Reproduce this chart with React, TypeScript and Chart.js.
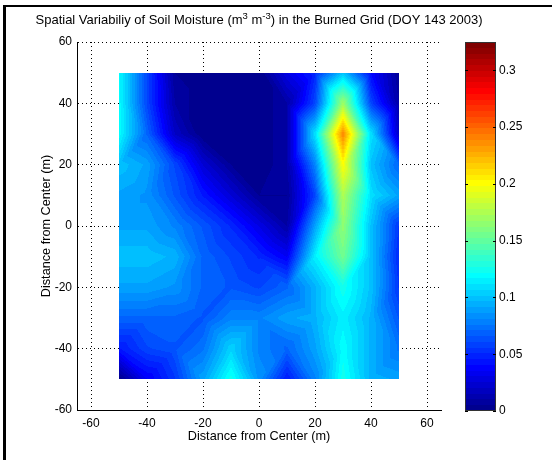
import React, { useEffect, useRef } from "react";
import { Chart, registerables } from "chart.js";

Chart.register(...registerables);

// ---- data ----
const gridX = [-50, -40, -30, -20, -10, 0, 10, 20, 30, 40, 50];
const gridY = [50, 40, 30, 20, 10, 0, -10, -20, -30, -40, -50];

const rowY50 = [0.12, 0.06, 0.005, 0.0, 0.0, 0.0, 0.03, 0.05, 0.1, 0.04, 0.005];
const rowY40 = [0.12, 0.06, 0.01, 0.0, 0.0, 0.0, 0.01, 0.06, 0.17, 0.06, 0.01];
const rowY30 = [0.12, 0.07, 0.02, 0.0, 0.0, 0.0, 0.01, 0.11, 0.24, 0.11, 0.02];
const rowY20 = [0.1, 0.09, 0.06, 0.025, 0.005, 0.0, 0.01, 0.08, 0.2, 0.1, 0.07];
const rowY10 = [0.09, 0.085, 0.065, 0.045, 0.025, 0.005, 0.005, 0.06, 0.175, 0.11, 0.09];
const rowY0 = [0.09, 0.09, 0.08, 0.065, 0.05, 0.03, 0.01, 0.09, 0.165, 0.1, 0.055];
const rowYm10 = [0.1, 0.1, 0.095, 0.07, 0.06, 0.05, 0.035, 0.115, 0.155, 0.1, 0.05];
const rowYm20 = [0.09, 0.09, 0.085, 0.07, 0.065, 0.06, 0.07, 0.095, 0.125, 0.1, 0.055];
const rowYm30 = [0.07, 0.07, 0.07, 0.065, 0.08, 0.08, 0.09, 0.095, 0.115, 0.095, 0.065];
const rowYm40 = [0.045, 0.06, 0.065, 0.075, 0.105, 0.08, 0.07, 0.09, 0.12, 0.095, 0.075];
const rowYm50 = [0.0, 0.035, 0.055, 0.09, 0.125, 0.085, 0.045, 0.08, 0.125, 0.095, 0.09];

const moisture = [rowY50, rowY40, rowY30, rowY20, rowY10, rowY0, rowYm10, rowYm20, rowYm30, rowYm40, rowYm50];

const axisTicks = [-60, -40, -20, 0, 20, 40, 60];
const colorTicks = [0, 0.05, 0.1, 0.15, 0.2, 0.25, 0.3];
const colorTickLabels = ["0", "0.05", "0.1", "0.15", "0.2", "0.25", "0.3"];
const colorMin = 0;
const colorMax = 0.325;

// title pieces: normal text and superscripts
const titleParts = [
  { text: "Spatial Variabiliy of Soil Moisture (m", sup: false },
  { text: "3", sup: true },
  { text: " m", sup: false },
  { text: "-3", sup: true },
  { text: ") in the Burned Grid (DOY 143 2003)", sup: false },
];
const xTitle = "Distance from Center (m)";
const yTitle = "Distance from Center (m)";

const FONT_FAMILY = "'Liberation Sans', Arial, sans-serif";

// ---- MATLAB jet(64) ----
function buildJet(n: number): number[][] {
  const m = Math.ceil(n / 4);
  const u: number[] = [];
  for (let i = 1; i <= m; i++) u.push(i / m);
  for (let i = 1; i < m; i++) u.push(1);
  for (let i = m; i >= 1; i--) u.push(i / m);
  const J: number[][] = [];
  for (let i = 0; i < n; i++) J.push([0, 0, 0]);
  const g0 = Math.ceil(m / 2) - (n % 4 === 1 ? 1 : 0);
  for (let k = 0; k < u.length; k++) {
    const g = g0 + k + 1;
    const r = g + m;
    const b = g - m;
    if (r >= 1 && r <= n) J[r - 1][0] = u[k];
    if (g >= 1 && g <= n) J[g - 1][1] = u[k];
    if (b >= 1 && b <= n) J[b - 1][2] = u[k];
  }
  return J.map((c) => c.map((v) => Math.round(v * 255)));
}
const JET = buildJet(64);

function colorIndex(v: number) {
  let k = Math.floor(((v - colorMin) / (colorMax - colorMin)) * 64);
  if (k < 0) k = 0;
  if (k > 63) k = 63;
  return k;
}

function interp(vx: number, vy: number) {
  const nx = gridX.length;
  const ny = gridY.length;
  const fi = (vx - gridX[0]) / (gridX[1] - gridX[0]);
  const fj = (gridY[0] - vy) / (gridY[0] - gridY[1]);
  let ci = Math.floor(fi);
  let cj = Math.floor(fj);
  if (ci < 0) ci = 0;
  if (ci > nx - 2) ci = nx - 2;
  if (cj < 0) cj = 0;
  if (cj > ny - 2) cj = ny - 2;
  const u = Math.min(1, Math.max(0, fi - ci));
  const w = Math.min(1, Math.max(0, fj - cj));
  const a = moisture[cj][ci];
  const b = moisture[cj][ci + 1];
  const c = moisture[cj + 1][ci];
  const d = moisture[cj + 1][ci + 1];
  if ((ci + cj) % 2 === 0) {
    if (u + w <= 1) return a + u * (b - a) + w * (c - a);
    return d + (1 - u) * (c - d) + (1 - w) * (b - d);
  }
  if (u >= w) return a + u * (b - a) + w * (d - b);
  return a + w * (c - a) + u * (d - c);
}

const surfacePlugin = {
  id: "surface",
  beforeDatasetsDraw(chart: any) {
    const { ctx, scales } = chart;
    const xs = scales.x;
    const ys = scales.y;
    const left = Math.round(xs.getPixelForValue(gridX[0]));
    const right = Math.round(xs.getPixelForValue(gridX[gridX.length - 1]));
    const top = Math.round(ys.getPixelForValue(gridY[0]));
    const bottom = Math.round(ys.getPixelForValue(gridY[gridY.length - 1]));
    const w = right - left;
    const h = bottom - top;
    if (w <= 0 || h <= 0) return;
    const off = document.createElement("canvas");
    off.width = w;
    off.height = h;
    const octx = off.getContext("2d")!;
    const img = octx.createImageData(w, h);
    for (let py = 0; py < h; py++) {
      const vy = ys.getValueForPixel(top + py + 0.5);
      for (let px = 0; px < w; px++) {
        const vx = xs.getValueForPixel(left + px + 0.5);
        const col = JET[colorIndex(interp(vx, vy))];
        const o = (py * w + px) * 4;
        img.data[o] = col[0];
        img.data[o + 1] = col[1];
        img.data[o + 2] = col[2];
        img.data[o + 3] = 255;
      }
    }
    octx.putImageData(img, 0, 0);
    ctx.drawImage(off, left, top);
  },
};

const titlePlugin = {
  id: "matlabTitle",
  afterDraw(chart: any) {
    const { ctx, chartArea } = chart;
    const size = 13;
    const supSize = 9.5;
    const fontN = `${size}px ${FONT_FAMILY}`;
    const fontS = `${supSize}px ${FONT_FAMILY}`;
    ctx.save();
    ctx.fillStyle = "#000";
    ctx.textAlign = "left";
    ctx.textBaseline = "alphabetic";
    let total = 0;
    const widths = titleParts.map((p) => {
      ctx.font = p.sup ? fontS : fontN;
      const wd = ctx.measureText(p.text).width;
      total += wd;
      return wd;
    });
    let x = (chartArea.left + chartArea.right) / 2 - total / 2;
    const baseY = 24;
    titleParts.forEach((p, i) => {
      ctx.font = p.sup ? fontS : fontN;
      ctx.fillText(p.text, x, p.sup ? baseY - 5 : baseY);
      x += widths[i];
    });
    ctx.restore();
  },
};

const colorbarPlugin = {
  id: "colorbar",
  beforeDatasetsDraw(chart: any) {
    const { ctx, chartArea, scales } = chart;
    const ys = scales.y;
    const l = chartArea.left;
    const r = chartArea.right;
    for (let k = 0; k < 64; k++) {
      const v0 = colorMin + (k * (colorMax - colorMin)) / 64;
      const v1 = colorMin + ((k + 1) * (colorMax - colorMin)) / 64;
      const p0 = Math.round(ys.getPixelForValue(v0));
      const p1 = Math.round(ys.getPixelForValue(v1));
      const c = JET[k];
      ctx.fillStyle = `rgb(${c[0]},${c[1]},${c[2]})`;
      ctx.fillRect(l, p1, r - l, p0 - p1);
    }
    ctx.save();
    ctx.strokeStyle = "#333";
    ctx.lineWidth = 1;
    ctx.strokeRect(Math.round(l) + 0.5, Math.round(chartArea.top) + 0.5, Math.round(r - l) - 1, Math.round(chartArea.bottom - chartArea.top) - 1);
    ctx.strokeStyle = "#000";
    for (const t of colorTicks) {
      const p = Math.round(ys.getPixelForValue(t)) + 0.5;
      ctx.beginPath();
      ctx.moveTo(l, p);
      ctx.lineTo(l + 3, p);
      ctx.moveTo(r - 3, p);
      ctx.lineTo(r, p);
      ctx.stroke();
    }
    ctx.restore();
  },
};

Chart.defaults.font.family = FONT_FAMILY;
Chart.defaults.font.size = 12;
Chart.defaults.color = "#000";

export default function App() {
  const mainRef = useRef<HTMLCanvasElement | null>(null);
  const barRef = useRef<HTMLCanvasElement | null>(null);

  useEffect(() => {
    const points: { x: number; y: number }[] = [];
    gridY.forEach((yv) => gridX.forEach((xv) => points.push({ x: xv, y: yv })));

    const main = new Chart(mainRef.current!, {
      type: "scatter",
      data: {
        datasets: [
          { data: points, pointRadius: 0, showLine: false, borderColor: "rgba(0,0,0,0)", backgroundColor: "rgba(0,0,0,0)" },
        ],
      },
      options: {
        responsive: false,
        animation: false,
        events: [],
        layout: { padding: { left: 0, right: 111, top: 42, bottom: 0 } },
        plugins: {
          legend: { display: false },
          tooltip: { enabled: false },
          title: { display: false },
        },
        scales: {
          x: {
            type: "linear",
            min: -65,
            max: 65,
            afterBuildTicks: (s: any) => {
              s.ticks = axisTicks.map((v) => ({ value: v }));
            },
            afterFit: (s: any) => {
              s.height = 50;
            },
            ticks: { padding: 6, color: "#000", font: { size: 12 }, maxRotation: 0, autoSkip: false },
            grid: { color: "#000", lineWidth: 1, drawTicks: false },
            border: { display: true, color: "#000", width: 1, dash: [1, 3] },
            title: { display: true, text: xTitle, color: "#000", font: { size: 12.7 }, padding: { top: 0, bottom: 15.4 } },
          },
          y: {
            type: "linear",
            min: -60,
            max: 60,
            afterBuildTicks: (s: any) => {
              s.ticks = axisTicks.map((v) => ({ value: v }));
            },
            afterFit: (s: any) => {
              s.width = 77;
            },
            ticks: { padding: 5, color: "#000", font: { size: 12 }, autoSkip: false },
            grid: { color: "#000", lineWidth: 1, drawTicks: false },
            border: { display: true, color: "#000", width: 1, dash: [1, 3] },
            title: { display: true, text: yTitle, color: "#000", font: { size: 12.7 }, padding: { top: 38.4, bottom: 0 } },
          },
        },
      },
      plugins: [surfacePlugin, titlePlugin],
    } as any);

    const bar = new Chart(barRef.current!, {
      type: "scatter",
      data: { datasets: [{ data: [], pointRadius: 0 }] },
      options: {
        responsive: false,
        animation: false,
        events: [],
        layout: { padding: { left: 25, right: 0, top: 42, bottom: 49 } },
        plugins: { legend: { display: false }, tooltip: { enabled: false }, title: { display: false } },
        scales: {
          x: { display: false, min: 0, max: 1 },
          y: {
            type: "linear",
            position: "right",
            min: colorMin,
            max: colorMax,
            afterBuildTicks: (s: any) => {
              s.ticks = colorTicks.map((v) => ({ value: v }));
            },
            afterFit: (s: any) => {
              s.width = 56;
            },
            ticks: {
              padding: 3,
              color: "#000",
              font: { size: 12 },
              autoSkip: false,
              callback: (_v: any, i: number) => colorTickLabels[i],
            },
            grid: { display: false, drawTicks: false },
            border: { display: false },
          },
        },
      },
      plugins: [colorbarPlugin],
    } as any);

    return () => {
      main.destroy();
      bar.destroy();
    };
  }, []);

  return (
    <div style={{ position: "absolute", left: 0, top: 0, width: 552, height: 460, background: "#fff", overflow: "hidden" }}>
      <canvas ref={mainRef} width={552} height={460} style={{ position: "absolute", left: 0, top: 0, width: 552, height: 460 }} />
      <canvas ref={barRef} width={112} height={460} style={{ position: "absolute", left: 440, top: 0, width: 112, height: 460 }} />
      <div style={{ position: "absolute", left: 3, top: 5, width: 549, height: 2, background: "#000" }} />
      <div style={{ position: "absolute", left: 3, top: 5, width: 3, height: 455, background: "#000" }} />
    </div>
  );
}
